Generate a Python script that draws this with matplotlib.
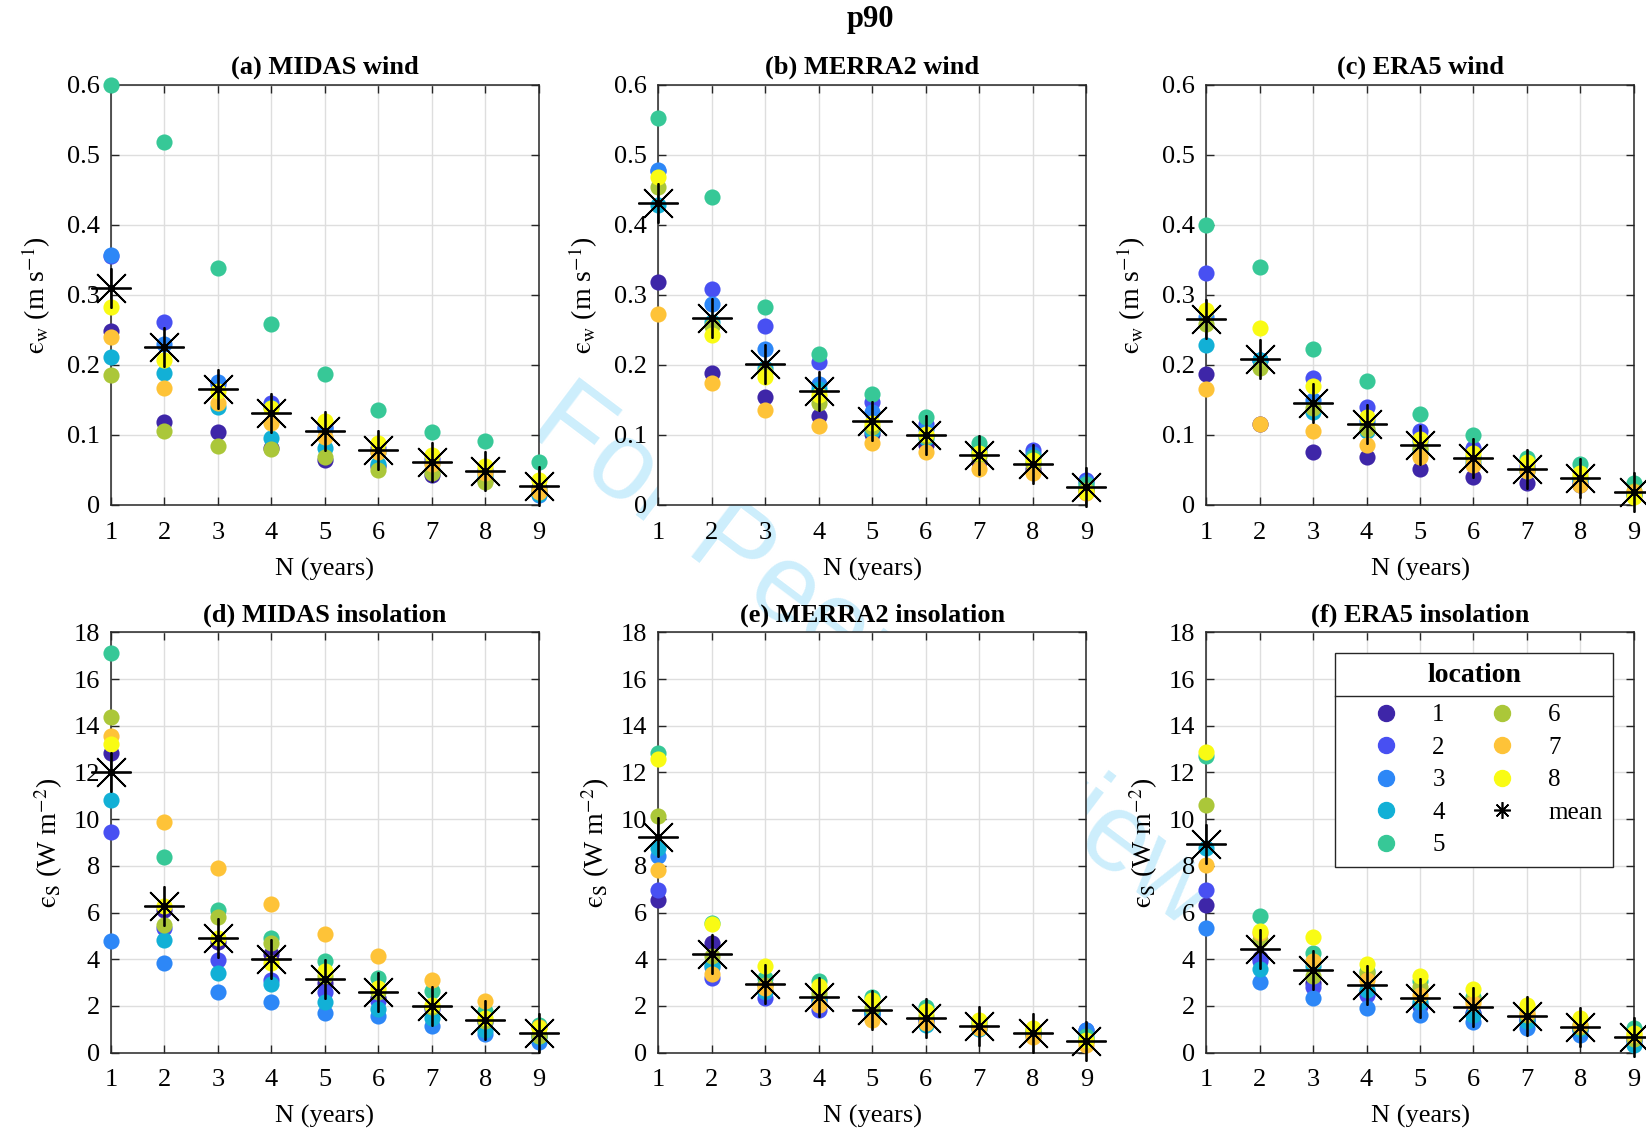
import numpy as np
import matplotlib
matplotlib.use("Agg")
import matplotlib.pyplot as plt
from matplotlib.lines import Line2D
from matplotlib.ticker import FuncFormatter

plt.rcParams['font.family'] = ['Liberation Serif', 'DejaVu Serif']
plt.rcParams['mathtext.fontset'] = 'stix'
plt.rcParams['font.size'] = 18

N = np.arange(1, 10)
loc_labels = ['1', '2', '3', '4', '5', '6', '7', '8']
# parula(8)
loc_colors = ['#3e26a8', '#4850f2', '#2d87f7', '#12b0d6', '#37c897',
              '#abc739', '#fec338', '#f9fb14']

# (a) MIDAS wind, one list per location, N = 1..9
midas_wind = [
    [0.248, 0.119, 0.104, 0.081, 0.064, 0.055, 0.043, 0.035, 0.018],
    [0.355, 0.261, 0.172, 0.145, 0.112, 0.082, 0.065, 0.050, 0.025],
    [0.357, 0.230, 0.176, 0.140, 0.109, 0.075, 0.060, 0.045, 0.014],
    [0.211, 0.189, 0.140, 0.096, 0.081, 0.059, 0.050, 0.040, 0.016],
    [0.600, 0.518, 0.338, 0.258, 0.187, 0.135, 0.104, 0.092, 0.062],
    [0.186, 0.105, 0.084, 0.080, 0.069, 0.050, 0.045, 0.033, 0.022],
    [0.240, 0.167, 0.145, 0.117, 0.097, 0.076, 0.059, 0.045, 0.019],
    [0.282, 0.207, 0.162, 0.138, 0.120, 0.089, 0.071, 0.055, 0.035],
]
midas_wind_mean = [0.310, 0.225, 0.165, 0.132, 0.105, 0.078, 0.062, 0.049, 0.027]

# (b) MERRA2 wind
merra_wind = [
    [0.318, 0.189, 0.154, 0.127, 0.102, 0.086, 0.062, 0.052, 0.022],
    [0.477, 0.308, 0.255, 0.204, 0.147, 0.116, 0.082, 0.079, 0.035],
    [0.478, 0.287, 0.223, 0.173, 0.133, 0.109, 0.082, 0.073, 0.033],
    [0.428, 0.261, 0.195, 0.166, 0.105, 0.095, 0.075, 0.060, 0.025],
    [0.552, 0.439, 0.283, 0.215, 0.158, 0.126, 0.089, 0.069, 0.030],
    [0.454, 0.255, 0.190, 0.145, 0.112, 0.098, 0.070, 0.058, 0.022],
    [0.272, 0.174, 0.136, 0.113, 0.088, 0.075, 0.052, 0.045, 0.017],
    [0.468, 0.242, 0.183, 0.157, 0.117, 0.102, 0.074, 0.064, 0.019],
]
merra_wind_mean = [0.431, 0.267, 0.201, 0.162, 0.120, 0.100, 0.071, 0.058, 0.025]

# (c) ERA5 wind
era_wind = [
    [0.187, 0.115, 0.076, 0.069, 0.052, 0.040, 0.032, 0.030, 0.014],
    [0.331, 0.207, 0.181, 0.140, 0.106, 0.082, 0.055, 0.029, 0.016],
    [0.268, 0.207, 0.150, 0.120, 0.092, 0.068, 0.050, 0.035, 0.015],
    [0.229, 0.207, 0.133, 0.105, 0.078, 0.060, 0.048, 0.036, 0.016],
    [0.399, 0.340, 0.222, 0.177, 0.130, 0.100, 0.067, 0.058, 0.031],
    [0.259, 0.195, 0.138, 0.109, 0.082, 0.065, 0.052, 0.040, 0.020],
    [0.166, 0.116, 0.105, 0.086, 0.068, 0.057, 0.048, 0.029, 0.018],
    [0.279, 0.253, 0.170, 0.126, 0.094, 0.074, 0.062, 0.045, 0.012],
]
era_wind_mean = [0.266, 0.209, 0.146, 0.115, 0.086, 0.067, 0.052, 0.039, 0.019]

# (d) MIDAS insolation
midas_ins = [
    [12.85, 6.12, 4.76, 4.22, 3.00, 2.33, 1.95, 1.35, 0.75],
    [9.44, 5.34, 3.98, 3.12, 2.58, 2.20, 1.85, 1.30, 0.70],
    [4.79, 3.86, 2.58, 2.15, 1.69, 1.55, 1.14, 0.80, 0.47],
    [10.83, 4.84, 3.43, 2.93, 2.19, 1.86, 1.47, 0.97, 0.65],
    [17.11, 8.38, 6.09, 4.91, 3.91, 3.19, 2.62, 1.80, 1.19],
    [14.38, 5.48, 5.81, 4.69, 3.30, 2.60, 1.95, 1.35, 0.70],
    [13.56, 9.87, 7.91, 6.37, 5.08, 4.16, 3.12, 2.23, 1.10],
    [13.23, 6.29, 4.91, 3.83, 3.48, 2.76, 2.05, 1.47, 1.04],
]
midas_ins_mean = [12.03, 6.27, 4.91, 4.02, 3.16, 2.58, 2.00, 1.40, 0.83]

# (e) MERRA2 insolation
merra_ins = [
    [6.55, 4.69, 2.95, 2.30, 1.75, 1.45, 1.10, 0.85, 0.50],
    [6.98, 3.19, 2.33, 1.83, 1.60, 1.35, 1.10, 0.80, 0.95],
    [8.44, 3.65, 2.60, 2.20, 1.70, 1.40, 1.05, 0.80, 0.97],
    [8.77, 3.76, 2.65, 2.40, 1.70, 1.19, 1.00, 0.72, 0.60],
    [12.85, 5.55, 3.20, 3.05, 2.37, 1.97, 1.30, 0.95, 0.70],
    [10.13, 4.12, 2.90, 2.55, 1.90, 1.55, 1.20, 0.90, 0.50],
    [7.84, 3.38, 2.76, 2.05, 1.40, 1.26, 1.04, 0.69, 0.33],
    [12.59, 5.52, 3.69, 2.86, 2.26, 1.80, 1.40, 1.04, 0.55],
]
merra_ins_mean = [9.24, 4.22, 2.95, 2.37, 1.83, 1.50, 1.16, 0.86, 0.52]

# (f) ERA5 insolation
era_ins = [
    [6.31, 4.05, 2.98, 2.60, 2.00, 1.70, 1.45, 1.00, 0.60],
    [6.95, 3.91, 2.83, 2.47, 2.05, 1.65, 1.40, 0.95, 0.55],
    [5.36, 3.02, 2.33, 1.90, 1.62, 1.33, 1.04, 0.76, 0.45],
    [8.77, 3.58, 3.69, 2.69, 2.15, 1.60, 1.35, 1.00, 0.33],
    [12.70, 5.84, 4.26, 3.48, 3.05, 2.40, 1.85, 1.20, 1.04],
    [10.59, 4.84, 3.29, 3.40, 2.80, 2.25, 1.60, 1.10, 0.60],
    [8.03, 5.12, 3.91, 3.12, 2.47, 2.12, 1.69, 1.19, 0.75],
    [12.88, 5.19, 4.95, 3.81, 3.29, 2.72, 2.05, 1.47, 0.85],
]
era_ins_mean = [8.94, 4.43, 3.55, 2.90, 2.33, 1.95, 1.57, 1.09, 0.69]

panels = [
    ('(a) MIDAS wind', midas_wind, midas_wind_mean, 'wind'),
    ('(b) MERRA2 wind', merra_wind, merra_wind_mean, 'wind'),
    ('(c) ERA5 wind', era_wind, era_wind_mean, 'wind'),
    ('(d) MIDAS insolation', midas_ins, midas_ins_mean, 'ins'),
    ('(e) MERRA2 insolation', merra_ins, merra_ins_mean, 'ins'),
    ('(f) ERA5 insolation', era_ins, era_ins_mean, 'ins'),
]

lefts = [0.0674, 0.4000, 0.7327]
bottoms = [0.5543, 0.0709]
w, h = 0.260, 0.3710

star = (8, 2, 0)
eps = '\u03f5'
fig = plt.figure(figsize=(16.46, 11.33), dpi=100)

# watermark sits behind the (white) axes
fig.text(0.531, 0.419, 'For Peer Review', rotation=-37, fontsize=80,
         color='#cdeefc', ha='center', va='center', family='Liberation Sans',
         zorder=-1)

for i, (title, vals, mean, kind) in enumerate(panels):
    ax = fig.add_axes([lefts[i % 3], bottoms[i // 3], w, h])
    ax.set_facecolor('white')
    for k in range(8):
        ax.scatter(N, vals[k], s=135, color=loc_colors[k], linewidths=0,
                   zorder=3, clip_on=False)
    ax.plot(N, mean, linestyle='none', marker=star, markersize=29,
            markeredgewidth=1.3, color='black', zorder=4, clip_on=False)
    ax.plot(N, mean, linestyle='none', marker='o', markersize=4,
            color='black', zorder=5, clip_on=False)

    ax.set_xlim(1, 9)
    ax.set_xticks(N)
    if kind == 'wind':
        ax.set_ylim(0, 0.6)
        ax.set_yticks(np.arange(0, 0.61, 0.1))
        ax.set_ylabel('$\\mathrm{' + eps + '}_{\\mathrm{w}}$ (m s$^{-1}$)',
                      fontsize=20, labelpad=10)
    else:
        ax.set_ylim(0, 18)
        ax.set_yticks(np.arange(0, 19, 2))
        ax.set_ylabel('$\\mathrm{' + eps + '}_{\\mathrm{S}}$ (W m$^{-2}$)',
                      fontsize=20, labelpad=6)
    ax.yaxis.set_major_formatter(FuncFormatter(lambda v, p: '%g' % round(v, 2)))
    ax.set_xlabel('N (years)', fontsize=19, labelpad=10)
    ax.set_title(title, fontsize=19, fontweight='bold', pad=8)

    ax.grid(True, color='#dedede', linewidth=1.0)
    ax.set_axisbelow(True)
    ax.tick_params(direction='in', length=6, width=1, top=True, right=True,
                   labelsize=19, color='#262626')
    ax.tick_params(axis='x', pad=12)
    ax.tick_params(axis='y', pad=8)
    for sp in ax.spines.values():
        sp.set_linewidth(1.1)
        sp.set_color('#262626')

    if i == 5:
        handles = [Line2D([], [], linestyle='none', marker='o', markersize=11.5,
                          color=c) for c in loc_colors]
        handles.append((Line2D([], [], linestyle='none', marker=star, markersize=12,
                               markeredgewidth=1.2, color='black'),
                        Line2D([], [], linestyle='none', marker='o', markersize=3,
                               color='black')))
        leg = ax.legend(handles, loc_labels + ['mean'], ncol=2, title='location',
                        loc='upper right', bbox_to_anchor=(0.951, 0.952),
                        borderaxespad=0, fontsize=18, frameon=True, fancybox=False,
                        edgecolor='#262626', framealpha=1, handlelength=3.24,
                        handletextpad=0.22, columnspacing=0.68, labelspacing=0.40,
                        borderpad=0.42)
        leg.get_title().set_fontweight('bold')
        leg.get_title().set_fontsize(20)
        leg.get_frame().set_linewidth(1.0)
        leg.set_zorder(6)
        # more room between the title and the entries
        leg._legend_box.sep = 11.5

fig.text(0.529, 0.983, 'p90', fontsize=22, fontweight='bold',
         ha='center', va='center')

# separator line between legend title and entries
fig.canvas.draw()
lb = leg.get_window_extent()
tb = leg.get_title().get_window_extent()
t1 = leg.get_texts()[0].get_window_extent()
ysep = (tb.y0 + t1.y1) / 2
inv = fig.transFigure.inverted()
(x0, y0), (x1, _) = inv.transform([(lb.x0, ysep), (lb.x1, ysep)])
fig.add_artist(Line2D([x0, x1], [y0, y0], color='#262626', linewidth=1.0, zorder=7))

fig.savefig('out.png', dpi=100)
